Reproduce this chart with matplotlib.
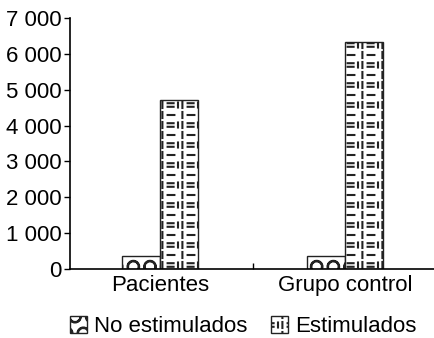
import warnings
import numpy as np
import matplotlib
matplotlib.use("Agg")
import matplotlib.pyplot as plt
from matplotlib import hatch as mhatch
from matplotlib.path import Path
from matplotlib.ticker import FuncFormatter

warnings.filterwarnings("ignore")

categories = ["Pacientes", "Grupo control"]
no_estimulados = [350, 360]
estimulados = [4700, 6330]
series_names = ["No estimulados", "Estimulados"]


# dashed "brick" fill like the original, hatch char '='
class DashHatch(mhatch.HatchPatternBase):
    def __init__(self, hatch, density):
        self.segs = []
        if hatch.count('='):
            rows, cols = 10, 5
            for r in range(rows):
                y = (r + 0.5) / rows
                dy = 1.0 / rows
                for c in range(cols):
                    x0 = c / cols
                    dx = 1.0 / cols
                    xv = x0 + 0.12 * dx
                    self.segs.append(((xv, y - 0.3 * dy), (xv, y + 0.3 * dy)))
                    if r % 2 == 0:
                        self.segs.append(((x0 + 0.38 * dx, y), (x0 + 0.72 * dx, y)))
                    else:
                        self.segs.append(((x0 + 0.38 * dx, y - 0.18 * dy), (x0 + 0.68 * dx, y - 0.18 * dy)))
                        self.segs.append(((x0 + 0.38 * dx, y + 0.18 * dy), (x0 + 0.68 * dx, y + 0.18 * dy)))
                        self.segs.append(((x0 + 0.9 * dx, y - 0.25 * dy), (x0 + 0.9 * dx, y - 0.05 * dy)))
                        self.segs.append(((x0 + 0.9 * dx, y + 0.05 * dy), (x0 + 0.9 * dx, y + 0.25 * dy)))
        self.num_vertices = len(self.segs) * 2

    def set_vertices_and_codes(self, vertices, codes):
        for i, (p, q) in enumerate(self.segs):
            vertices[2 * i] = p
            vertices[2 * i + 1] = q
        codes[0::2] = Path.MOVETO
        codes[1::2] = Path.LINETO


mhatch._hatch_types.append(DashHatch)

plt.rcParams['font.family'] = ['Liberation Sans', 'DejaVu Sans']
plt.rcParams['hatch.linewidth'] = 1.5
plt.rcParams['hatch.color'] = '#222222'

fig = plt.figure(figsize=(4.35, 3.38), dpi=100)
ax = fig.add_axes([0.161, 0.204, 0.839, 0.743])

x = np.arange(len(categories))
w = 0.205
b1 = ax.bar(x - w / 2, no_estimulados, w, color='white', edgecolor='#222222',
            hatch='O', linewidth=1)
b2 = ax.bar(x + w / 2, estimulados, w, color='white', edgecolor='#222222',
            hatch='=', linewidth=1)

ax.set_ylim(0, 7000)
ax.set_xlim(-0.484, 1.484)
ax.set_yticks(range(0, 7001, 1000))
ax.yaxis.set_major_formatter(FuncFormatter(lambda v, p: f"{int(v):,}".replace(",", " ")))
ax.set_xticks([0.5])
ax.set_xticklabels([""])
ax.set_xticks(x, minor=True)
ax.set_xticklabels(categories, minor=True)
ax.tick_params(axis='x', which='minor', length=0, labelsize=16, pad=4)
ax.tick_params(axis='x', which='major', direction='in', length=4, width=1)
ax.tick_params(axis='y', labelsize=16, length=4, width=1, pad=2)

for s in ['top', 'right']:
    ax.spines[s].set_visible(False)
for s in ['left', 'bottom']:
    ax.spines[s].set_linewidth(1.2)

fig.legend([b1, b2], series_names, loc='center', bbox_to_anchor=(0.559, 0.033),
           ncol=2, frameon=False, fontsize=16, handlelength=0.75, handleheight=0.75,
           handletextpad=0.3, columnspacing=1.1, borderpad=0)

fig.savefig("out.png", dpi=100)
